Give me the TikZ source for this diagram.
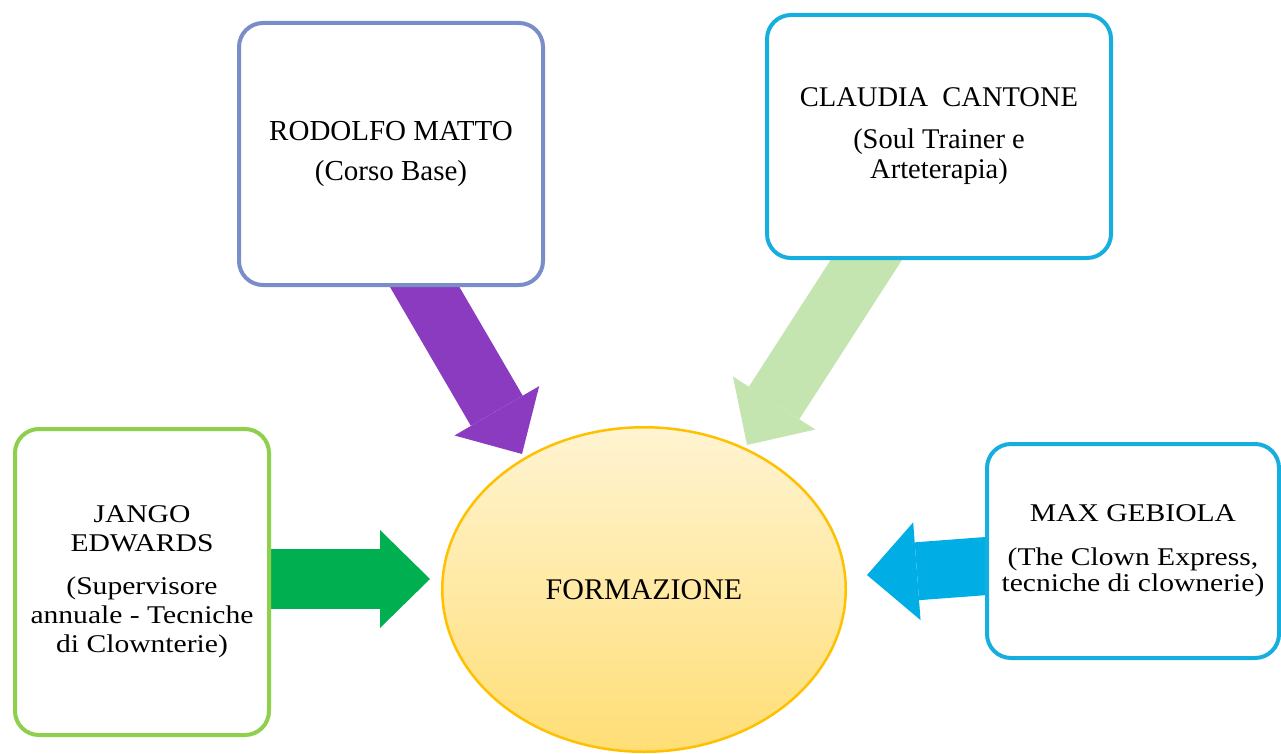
\documentclass[tikz,border=0pt]{standalone}
\usepackage{fontspec}
\setmainfont{Liberation Serif}
\newfontfamily\widefont{Liberation Serif}[FakeStretch=1.16]
\usetikzlibrary{shapes,arrows.meta}
\usetikzlibrary{positioning}
\usetikzlibrary{calc}
\definecolor{myblue}{HTML}{7A8DC8}
\definecolor{mysky}{HTML}{16AEDE}
\definecolor{mylime}{HTML}{8ED04C}
\definecolor{myorange}{HTML}{FFC000}
\definecolor{mylight}{HTML}{FFF4D2}
\definecolor{mygold}{HTML}{FFDE76}
\definecolor{myviolet}{HTML}{8A3BC0}
\definecolor{mypale}{HTML}{C4E5B0}
\definecolor{mygreen}{HTML}{00B050}
\definecolor{mycyan}{HTML}{00ADE4}
\pgfdeclarelayer{background}
\pgfsetlayers{background,main}
\newcommand\mytext[3][10pt]{#2\\[#1]#3}

\begin{document}
\begin{tikzpicture}[x=1pt, y=-1pt,
mybox/.style={
  draw,
  line width=4pt,
  rounded corners=24pt,
  fill=white,
  align=center,
  inner sep=0pt},
fatarrow/.style={
  line width=60pt,
  -{Triangle[length=50pt,width=98pt,line width=0pt]}}
]
\useasboundingbox (0,0) rectangle (1281,754);
\node[mybox, draw=myblue, minimum width=304pt, minimum height=262pt,
  font=\fontsize{29}{30}\selectfont] (rodolfo) at (391,154)
  {\mytext[10pt]{RODOLFO MATTO}{(Corso Base)}};
\node[mybox, draw=mysky, minimum width=344pt, minimum height=243pt,
  font=\fontsize{28.5}{30}\selectfont] (claudia) at (939,136.5)
  {\mytext[12pt]{CLAUDIA\ \ CANTONE}{(Soul Trainer e\\Arteterapia)}};
\node[mybox, draw=mylime, minimum width=254pt, minimum height=306pt,
  font=\widefont\fontsize{25.5}{29}\selectfont] (jango) at (142,582)
  {\mytext[14pt]{JANGO\\EDWARDS}{(Supervisore\\annuale - Tecniche\\di Clownterie)}};
\node[mybox, draw=mysky, minimum width=292pt, minimum height=214pt,
  font=\widefont\fontsize{25.5}{26}\selectfont] (max) at (1133,551)
  {\mytext[18pt]{MAX GEBIOLA}{(The Clown Express,\\tecniche di clownerie)}};
\node[ellipse, draw=myorange, line width=2.5pt, top color=mylight,
  bottom color=mygold, minimum width=403.5pt,
  minimum height=324.5pt, inner sep=0pt,
  font=\fontsize{30}{32}\selectfont] (formazione) at (644,589.5) {FORMAZIONE};
% frecce
\begin{pgfonlayer}{background}
\draw[fatarrow, myviolet] ($(rodolfo.center)+(-17,46)$) -- ($(formazione.center)+(-122,-135.5)$);
\draw[fatarrow, mypale] ($(claudia.center)+(-41.5,75)$) -- ($(formazione.center)+(103,-144.5)$);
\draw[fatarrow, mygreen] ($(jango.center)+(60,-3)$) -- ($(formazione.center)+(-214,-10.5)$);
\draw[fatarrow, mycyan, line width=58pt] ($(max.center)+(-80,10)$) -- ($(formazione.center)+(223,-14.5)$);
\end{pgfonlayer}
\end{tikzpicture}
\end{document}
